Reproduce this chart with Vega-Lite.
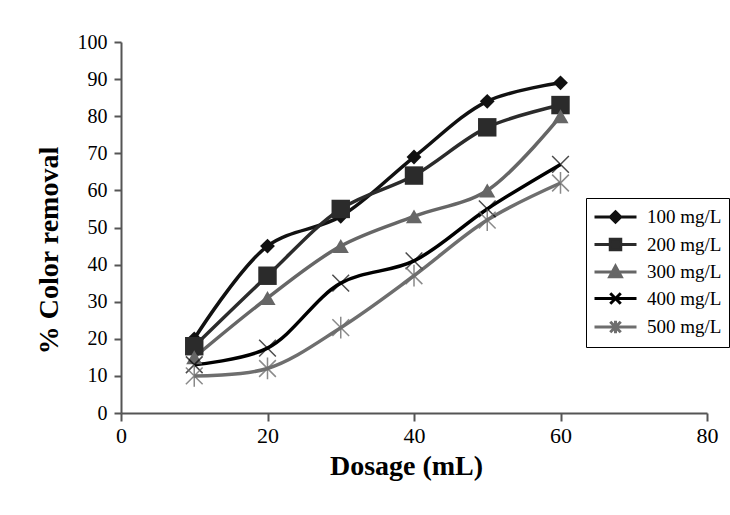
{
  "$schema": "https://vega.github.io/schema/vega-lite/v6.json",
  "width": 586,
  "height": 371,
  "autosize": {"type": "none"},
  "padding": {"left": 121, "top": 42, "right": 23, "bottom": 102},
  "background": "white",
  "config": {
    "view": {"stroke": null},
    "font": "Liberation Serif",
    "axis": {
      "grid": false,
      "domainColor": "#555555",
      "domainWidth": 2,
      "tickColor": "#555555",
      "tickWidth": 2,
      "tickSize": 7,
      "labelFont": "Liberation Serif",
      "labelColor": "#000000",
      "labelFlush": false,
      "titleFont": "Liberation Serif",
      "titleFontSize": 28,
      "titleFontWeight": "bold",
      "titleColor": "#000000"
    },
    "legend": {
      "orient": "none",
      "legendX": 465,
      "legendY": 156,
      "strokeColor": "#000000",
      "fillColor": "#ffffff",
      "padding": 7,
      "labelFont": "Liberation Serif",
      "labelFontSize": 19,
      "labelColor": "#000000",
      "rowPadding": 3.5,
      "labelOffset": 30,
      "symbolSize": 441,
      "symbolStrokeWidth": 3
    }
  },
  "data": {
    "values": [
      {"dose": 10, "removal": 20, "series": "100 mg/L"},
      {"dose": 20, "removal": 45, "series": "100 mg/L"},
      {"dose": 30, "removal": 53, "series": "100 mg/L"},
      {"dose": 40, "removal": 69, "series": "100 mg/L"},
      {"dose": 50, "removal": 84, "series": "100 mg/L"},
      {"dose": 60, "removal": 89, "series": "100 mg/L"},
      {"dose": 10, "removal": 18, "series": "200 mg/L"},
      {"dose": 20, "removal": 37, "series": "200 mg/L"},
      {"dose": 30, "removal": 55, "series": "200 mg/L"},
      {"dose": 40, "removal": 64, "series": "200 mg/L"},
      {"dose": 50, "removal": 77, "series": "200 mg/L"},
      {"dose": 60, "removal": 83, "series": "200 mg/L"},
      {"dose": 10, "removal": 15, "series": "300 mg/L"},
      {"dose": 20, "removal": 31, "series": "300 mg/L"},
      {"dose": 30, "removal": 45, "series": "300 mg/L"},
      {"dose": 40, "removal": 53, "series": "300 mg/L"},
      {"dose": 50, "removal": 60, "series": "300 mg/L"},
      {"dose": 60, "removal": 80, "series": "300 mg/L"},
      {"dose": 10, "removal": 13, "series": "400 mg/L"},
      {"dose": 20, "removal": 17.5, "series": "400 mg/L"},
      {"dose": 30, "removal": 35, "series": "400 mg/L"},
      {"dose": 40, "removal": 41, "series": "400 mg/L"},
      {"dose": 50, "removal": 55, "series": "400 mg/L"},
      {"dose": 60, "removal": 67, "series": "400 mg/L"},
      {"dose": 10, "removal": 10, "series": "500 mg/L"},
      {"dose": 20, "removal": 12, "series": "500 mg/L"},
      {"dose": 30, "removal": 23, "series": "500 mg/L"},
      {"dose": 40, "removal": 37, "series": "500 mg/L"},
      {"dose": 50, "removal": 52, "series": "500 mg/L"},
      {"dose": 60, "removal": 62, "series": "500 mg/L"}
    ]
  },
  "encoding": {
    "x": {
      "field": "dose",
      "type": "quantitative",
      "title": "Dosage (mL)",
      "scale": {"domain": [0, 80], "nice": false},
      "axis": {"values": [0, 20, 40, 60, 80], "labelFont": "Liberation Serif", "labelFontSize": 22, "labelPadding": 4, "tickSize": 8, "titlePadding": 6, "titleX": 285}
    },
    "y": {
      "field": "removal",
      "type": "quantitative",
      "title": "% Color removal",
      "scale": {"domain": [0, 100], "nice": false},
      "axis": {"values": [0, 10, 20, 30, 40, 50, 60, 70, 80, 90, 100], "labelFont": "Liberation Serif", "labelFontSize": 20, "labelPadding": 7, "titlePadding": 14, "titleY": 208}
    },
    "color": {
      "field": "series",
      "type": "nominal",
      "title": null,
      "scale": {
        "domain": ["100 mg/L", "200 mg/L", "300 mg/L", "400 mg/L", "500 mg/L"],
        "range": ["#111111", "#2b2b2b", "#666666", "#000000", "#6e6e6e"]
      },
      "legend": {
        "title": null,
        "encode": {
          "symbols": {
            "update": {
              "shape": {"signal": "datum.value === '100 mg/L' ? 'M-1,0L3,0M1,-0.5L1.5,0L1,0.5L0.5,0Z' : datum.value === '200 mg/L' ? 'M-1,0L3,0M0.5,-0.5L1.5,-0.5L1.5,0.5L0.5,0.5Z' : datum.value === '300 mg/L' ? 'M-1,0L3,0M1,-0.55L1.55,0.45L0.45,0.45Z' : datum.value === '400 mg/L' ? 'M-1,0L3,0M0.5,-0.5L1.5,0.5M0.5,0.5L1.5,-0.5' : 'M-1,0L3,0M0.5,-0.5L1.5,0.5M0.5,0.5L1.5,-0.5M1,-0.6L1,0.6'"},
              "size": {"value": 441},
              "strokeWidth": {"value": 3}
            }
          }
        }
      }
    }
  },
  "layer": [
    {
      "mark": {"type": "line", "strokeWidth": 3.5, "interpolate": "catmull-rom"},
      "encoding": {"detail": {"field": "series", "type": "nominal"}}
    },
    {
      "transform": [{"filter": "datum.series === '100 mg/L'"}],
      "mark": {"type": "point", "shape": "diamond", "filled": true, "opacity": 1, "size": 220}
    },
    {
      "transform": [{"filter": "datum.series === '200 mg/L'"}],
      "mark": {"type": "point", "shape": "square", "filled": true, "opacity": 1, "size": 340}
    },
    {
      "transform": [{"filter": "datum.series === '300 mg/L'"}],
      "mark": {"type": "point", "shape": "triangle-up", "filled": true, "opacity": 1, "size": 260}
    },
    {
      "transform": [{"filter": "datum.series === '400 mg/L'"}],
      "mark": {"type": "point", "shape": "M-1,-1L1,1M-1,1L1,-1", "filled": false, "opacity": 0.7, "strokeWidth": 1.5, "size": 280}
    },
    {
      "transform": [{"filter": "datum.series === '500 mg/L'"}],
      "mark": {"type": "point", "shape": "M-1,-1L1,1M-1,1L1,-1M0,-1.3L0,1.3", "filled": false, "opacity": 0.8, "strokeWidth": 1.5, "size": 280}
    }
  ]
}
